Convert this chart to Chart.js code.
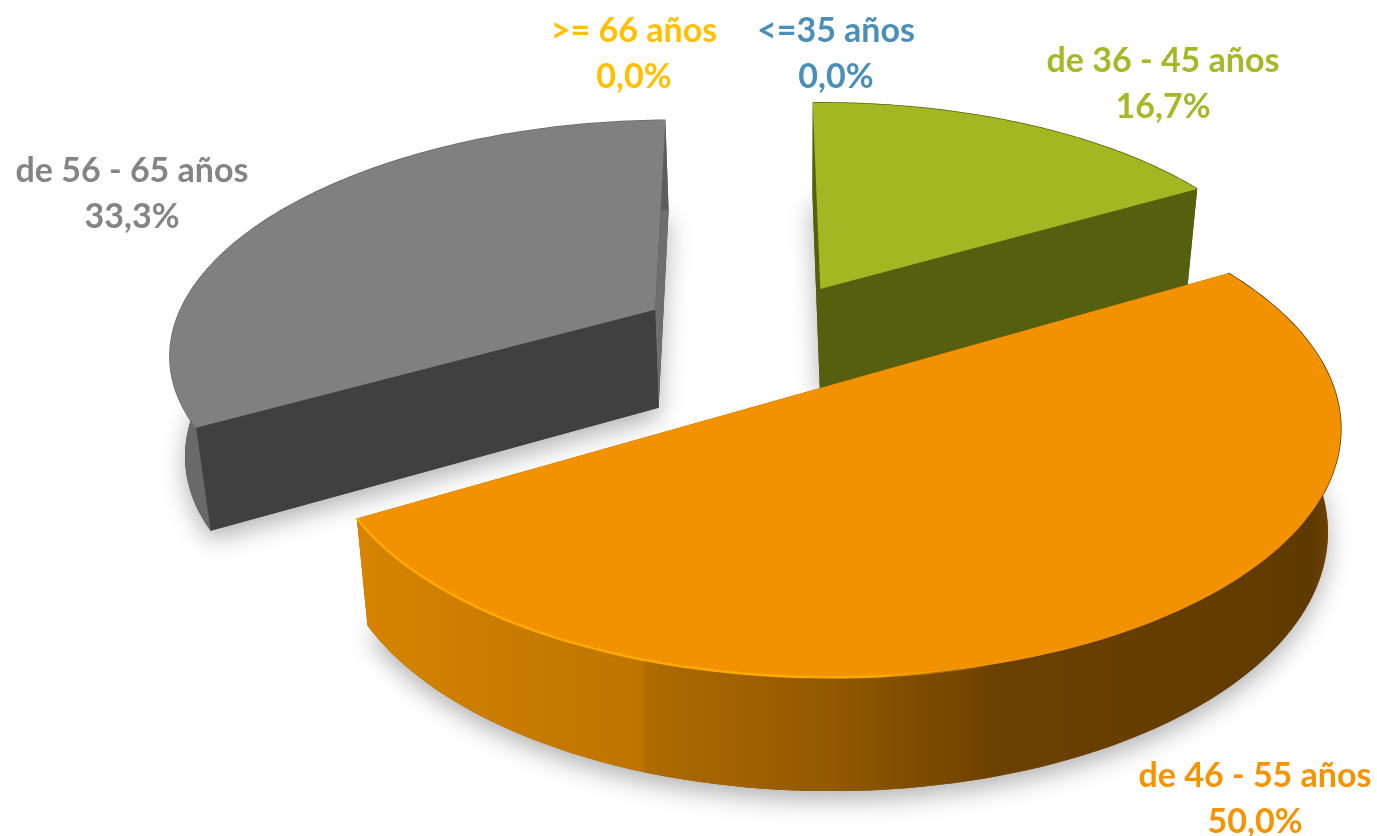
<!DOCTYPE html>
<html>
<head>
<meta charset="utf-8">
<title>Edad</title>
<script src="https://cdn.jsdelivr.net/npm/chart.js@4"></script>
<style>
    html, body { margin: 0; background: #fff; }
    canvas { display: block; }
</style>
</head>
<body>
<canvas id="pieChart" width="1377" height="836"></canvas>
<script>
// data
const categories = ['<=35 años', 'de 36 - 45 años', 'de 46 - 55 años', 'de 56 - 65 años', '>= 66 años'];
const shares = [0, 16.7, 50, 33.3, 0];
const labelColors = ['#4A8FB8', '#A6B727', '#F59300', '#848484', '#FFC000'];

// styling of each slice: top, radial faces, outer wall gradient (x fraction, colour)
const sliceStyles = [
    null,
    { top: '#A3B723', startFace: '#55600F', endFace: '#55600F', rimLine: '#55600F', nudge: -0.016, extraDepth: 3, wall: [[0, '#55600F'], [1, '#55600F']] },
    { top: '#F39200', startFace: '#8A5200', endFace: '#8A5200', rimLine: '#5F3A00', nudge: 0, extraDepth: 0, edge: '#FFAA00',
      wall: [[0, '#D68400'], [0.29, '#BE7400'], [0.295, '#AE6B00'], [0.48, '#935900'], [0.65, '#6C4100'], [0.97, '#5F3A00'], [1, '#754800']] },
    { top: '#808080', startFace: '#404040', endFace: '#6E6E6E', rimLine: '#6A6A6A', nudge: -0.02, extraDepth: 0, wall: [[0, '#6A6A6A'], [1, '#5C5C5C']] },
    null
];
const labelBoxes = [[836, 41.5], [1163, 71.5], [1255, 786.5], [132, 181.5], [634, 41.5]];

// perspective of the pie plane
const cam = { x0: 832, y0: 384.8, a: 501, b: 234, k: 0.173, q: 0.0268, rot: 31.2 * Math.PI / 180, explode: 0.253, vx: 800, lean: 0.024 };
const cr = Math.cos(cam.rot), sr = Math.sin(cam.rot);

function project(x, y, bottom, style) {
    // rotated plane coordinates, origin moved to the centre of the biggest slice
    const xr = x * cr + y * sr - cam.explode * sr + style.nudge;
    const yr = -x * sr + y * cr - cam.explode * cr;
    const w = 1 - cam.k * yr - cam.q * yr * yr;
    let sx = cam.x0 + cam.a * xr / w;
    let sy = cam.y0 + cam.b * yr / w;
    if (bottom) {
        // the wall gets a bit taller towards the viewer
        sy += 98 + (sy - 310) * 0.043 + style.extraDepth;
        sx += (cam.vx - sx) * cam.lean;
    }
    return [sx, sy];
}

function tracePoints(ctx, pts) {
    ctx.beginPath();
    pts.forEach((p, i) => i ? ctx.lineTo(p[0], p[1]) : ctx.moveTo(p[0], p[1]));
    ctx.closePath();
}

const pie3d = {
    id: 'pie3d',
    beforeDatasetDraw(chart, args) {
        const ctx = chart.ctx;
        const arcs = args.meta.data;
        // back to front: grey, green, orange
        [3, 1, 2].forEach(i => {
            const arc = arcs[i];
            const style = sliceStyles[i];
            if (!style || arc.circumference === 0) return;
            const mid = (arc.startAngle + arc.endAngle) / 2;
            const ox = cam.explode * Math.cos(mid), oy = cam.explode * Math.sin(mid);
            const rim = [];
            const steps = 120;
            for (let s = 0; s <= steps; s++) {
                const t = arc.startAngle + (arc.endAngle - arc.startAngle) * s / steps;
                rim.push([ox + Math.cos(t), oy + Math.sin(t)]);
            }
            const topRim = rim.map(p => project(p[0], p[1], false, style));
            const botRim = rim.map(p => project(p[0], p[1], true, style));
            const apexTop = project(ox, oy, false, style), apexBot = project(ox, oy, true, style);

            ctx.save();
            // soft shadow under the whole slice
            ctx.save();
            ctx.shadowColor = 'rgba(0,0,0,0.3)';
            ctx.shadowBlur = 24;
            ctx.shadowOffsetX = 0;
            ctx.shadowOffsetY = 9;
            ctx.fillStyle = style.startFace;
            tracePoints(ctx, [apexBot].concat(botRim));
            ctx.fill();
            ctx.restore();

            // radial faces
            ctx.fillStyle = style.endFace;
            tracePoints(ctx, [apexTop, topRim[steps], botRim[steps], apexBot]);
            ctx.fill();
            ctx.fillStyle = style.startFace;
            tracePoints(ctx, [apexTop, topRim[0], botRim[0], apexBot]);
            ctx.fill();

            // outer wall
            const xs = topRim.map(p => p[0]);
            const minX = Math.min.apply(null, xs), maxX = Math.max.apply(null, xs);
            const grad = ctx.createLinearGradient(minX, 0, maxX, 0);
            style.wall.forEach(st => grad.addColorStop(st[0], st[1]));
            ctx.fillStyle = grad;
            tracePoints(ctx, topRim.concat(botRim.slice().reverse()));
            ctx.fill();

            // thin dark line round the rim, the top covers half of it
            ctx.strokeStyle = style.rimLine;
            ctx.lineWidth = 1.5;
            ctx.beginPath();
            topRim.forEach(p => ctx.lineTo(p[0], p[1]));
            ctx.stroke();

            // top of the slice
            ctx.fillStyle = style.top;
            tracePoints(ctx, [apexTop].concat(topRim));
            ctx.fill();

            // bevel highlight on the lit part of the rim
            if (style.edge) {
                const fade = ctx.createLinearGradient(minX, 0, 1000, 0);
                fade.addColorStop(0, style.edge);
                fade.addColorStop(0.8, style.edge);
                fade.addColorStop(1, 'rgba(255,170,0,0)');
                ctx.strokeStyle = fade;
                ctx.lineWidth = 2.5;
                ctx.beginPath();
                topRim.forEach(p => {
                    if (p[0] > 1000 || p[1] < 400) return;
                    ctx.lineTo(p[0], p[1]);
                });
                ctx.stroke();
            }
            ctx.restore();
        });
        return false;
    },
    afterDraw(chart) {
        const ctx = chart.ctx;
        ctx.save();
        ctx.font = 'bold 34px Lato';
        ctx.textAlign = 'center';
        ctx.textBaseline = 'alphabetic';
        categories.forEach((name, i) => {
            const box = labelBoxes[i];
            ctx.fillStyle = labelColors[i];
            ctx.fillText(name, box[0], box[1]);
            ctx.fillText(shares[i].toFixed(1).replace('.', ',') + '%', box[0], box[1] + 46);
        });
        ctx.restore();
    }
};

document.addEventListener('DOMContentLoaded', function() {
    const ctx = document.getElementById('pieChart').getContext('2d');
    new Chart(ctx, {
        type: 'pie',
        data: {
            labels: categories,
            datasets: [{
                data: shares,
                backgroundColor: labelColors,
                borderWidth: 0
            }]
        },
        options: {
            responsive: false,
            animation: false,
            rotation: 30,
            plugins: {
                legend: { display: false },
                tooltip: { enabled: false }
            }
        },
        plugins: [pie3d]
    });
});
</script>
</body>
</html>
